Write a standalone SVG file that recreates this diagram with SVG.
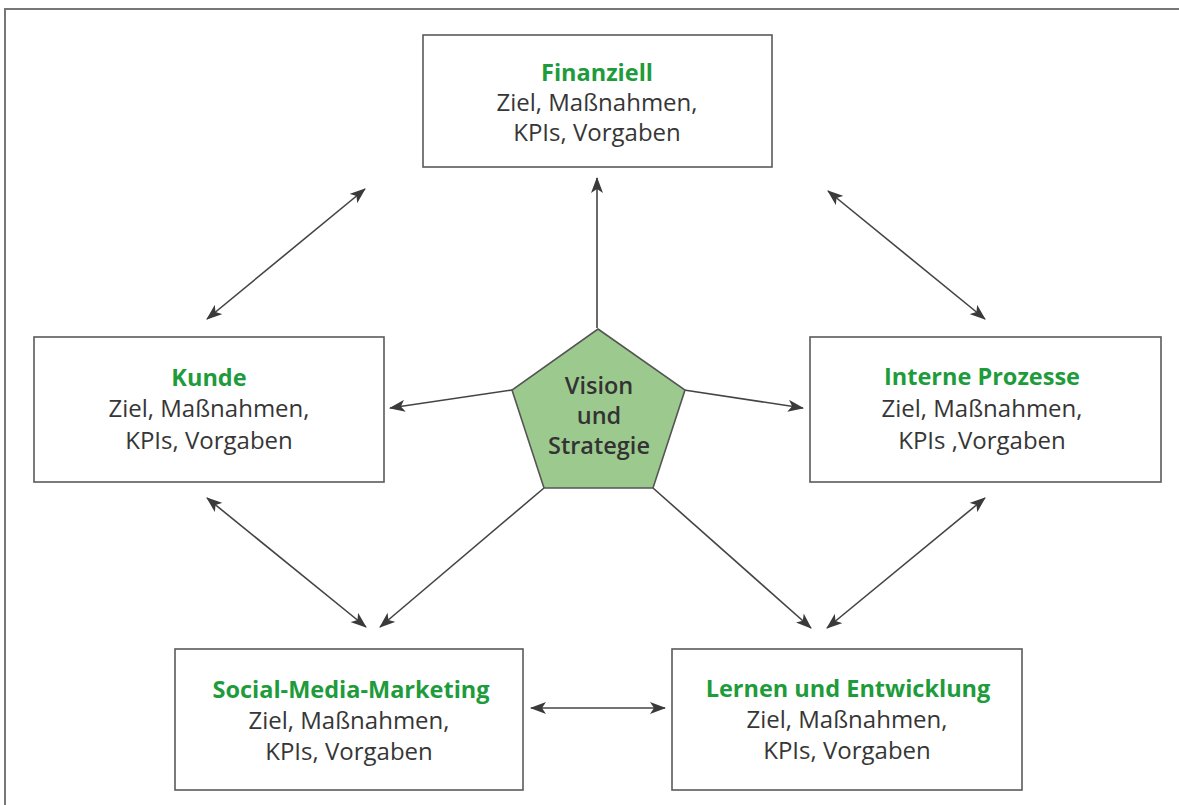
<svg xmlns="http://www.w3.org/2000/svg" width="1179" height="805" viewBox="0 0 1179 805">
<style>
.box{fill:#fff;stroke:#5a5a5a;stroke-width:1.6}
.t{font-family:"Open Sans","Noto Sans",sans-serif;font-size:24px;text-anchor:middle;fill:#363636}
.h{font-weight:bold;font-size:23.5px;fill:#1e9b3b}
.v{font-weight:600;font-size:23.5px;fill:#333}
.c{stroke:#444;stroke-width:1.6;fill:none}
.frame{stroke:#777;stroke-width:2;fill:none}
</style>
<defs>
<marker id="ah" viewBox="0 0 16 12" refX="15" refY="6" markerWidth="16" markerHeight="12" markerUnits="userSpaceOnUse" orient="auto-start-reverse">
<path d="M0,0 L16,6 L0,12 L4,6 z" fill="#3a3a3a"/>
</marker>
</defs>
<path class="frame" d="M5,805 L5,9 L1179,9"/>
<g id="connectors">
<line class="c" x1="597" y1="328" x2="597" y2="178" marker-end="url(#ah)"/>
<line class="c" x1="512" y1="390" x2="390" y2="408" marker-end="url(#ah)"/>
<line class="c" x1="684" y1="390" x2="803" y2="408" marker-end="url(#ah)"/>
<line class="c" x1="544" y1="488" x2="380" y2="627" marker-end="url(#ah)"/>
<line class="c" x1="653" y1="488" x2="811" y2="628" marker-end="url(#ah)"/>
<line class="c" x1="365" y1="189" x2="207" y2="319" marker-start="url(#ah)" marker-end="url(#ah)"/>
<line class="c" x1="828" y1="191" x2="985" y2="319" marker-start="url(#ah)" marker-end="url(#ah)"/>
<line class="c" x1="207" y1="498" x2="366" y2="627" marker-start="url(#ah)" marker-end="url(#ah)"/>
<line class="c" x1="985" y1="498" x2="827" y2="628" marker-start="url(#ah)" marker-end="url(#ah)"/>
<line class="c" x1="531" y1="708" x2="665" y2="708" marker-start="url(#ah)" marker-end="url(#ah)"/>
</g>
<g id="vision">
<polygon points="598,329 685,390 653,488 544,488 512,390" fill="#9cca8e" stroke="#555" stroke-width="1.6"/>
<text class="t v" x="599" y="394">Vision</text>
<text class="t v" x="599" y="424">und</text>
<text class="t v" x="599" y="454">Strategie</text>
</g>
<g id="finanziell">
<rect class="box" x="423" y="35" width="349" height="132"/>
<text class="t h" x="597" y="81">Finanziell</text>
<text class="t" x="597" y="111">Ziel, Maßnahmen,</text>
<text class="t" x="597" y="141">KPIs, Vorgaben</text>
</g>
<g id="kunde">
<rect class="box" x="34" y="337" width="350" height="145"/>
<text class="t h" x="209" y="386">Kunde</text>
<text class="t" x="209" y="417">Ziel, Maßnahmen,</text>
<text class="t" x="209" y="449">KPIs, Vorgaben</text>
</g>
<g id="interne">
<rect class="box" x="810" y="337" width="351" height="145"/>
<text class="t h" x="982" y="385">Interne Prozesse</text>
<text class="t" x="982" y="417">Ziel, Maßnahmen,</text>
<text class="t" x="982" y="449">KPIs ,Vorgaben</text>
</g>
<g id="social">
<rect class="box" x="175" y="649" width="348" height="141"/>
<text class="t h" x="351" y="698">Social-Media-Marketing</text>
<text class="t" x="349" y="729">Ziel, Maßnahmen,</text>
<text class="t" x="349" y="760">KPIs, Vorgaben</text>
</g>
<g id="lernen">
<rect class="box" x="672" y="649" width="350" height="141"/>
<text class="t h" x="848" y="697">Lernen und Entwicklung</text>
<text class="t" x="847" y="728">Ziel, Maßnahmen,</text>
<text class="t" x="847" y="759">KPIs, Vorgaben</text>
</g>
</svg>
